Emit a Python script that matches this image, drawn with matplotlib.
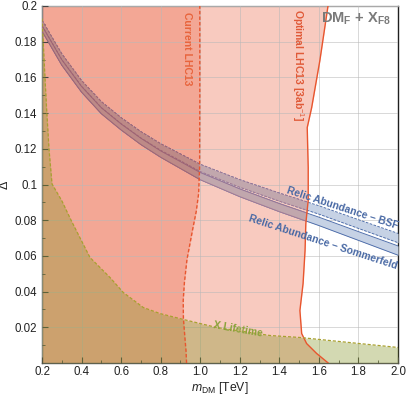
import matplotlib
matplotlib.use("Agg")
import matplotlib.pyplot as plt
from matplotlib.colors import to_rgb
import numpy as np

plt.rcParams['font.family'] = ['Liberation Sans', 'DejaVu Sans']
plt.rcParams['mathtext.fontset'] = 'custom'
plt.rcParams['mathtext.rm'] = 'Liberation Sans'
plt.rcParams['mathtext.it'] = 'Liberation Sans:italic'
plt.rcParams['mathtext.bf'] = 'Liberation Sans:bold'

# ---- data ----
# Current LHC13 exclusion boundary (mass as function of Delta)
cur_delta = [0.0, 0.007, 0.015, 0.025, 0.035, 0.045, 0.058, 0.065, 0.075, 0.085, 0.095, 0.11, 0.15, 0.2]
cur_mass = [0.931, 0.928, 0.922, 0.915, 0.914, 0.920, 0.933, 0.945, 0.962, 0.980, 0.992, 0.997, 0.998, 0.998]

# Optimal LHC13 [3ab^-1] boundary
opt_delta = [0.0, 0.0053, 0.0109, 0.0165, 0.0294, 0.0445, 0.0630, 0.0782, 0.0911, 0.1096, 0.1319, 0.1431, 0.1695, 0.2]
opt_mass = [1.647, 1.589, 1.538, 1.513, 1.504, 1.520, 1.530, 1.534, 1.546, 1.546, 1.541, 1.5635, 1.605, 1.646]

# X lifetime boundary (Delta as function of mass)
xl_mass = [0.2, 0.2066, 0.215, 0.2238, 0.2354, 0.2506, 0.2996, 0.350, 0.4427, 0.5438, 0.611,
           0.7121, 0.7966, 0.9143, 1.083, 1.353, 1.504, 2.0]
xl_delta = [0.193, 0.179, 0.160, 0.1415, 0.1199, 0.1003, 0.0910, 0.0793, 0.0591, 0.0479, 0.0395,
            0.0311, 0.0277, 0.0244, 0.0199, 0.0154, 0.0143, 0.0087]

# Relic abundance bands
relic_mass = [0.2, 0.3, 0.4, 0.5, 0.6, 0.7, 0.8, 0.9, 1.0, 1.2, 1.4, 1.6, 1.8, 2.0]
bsf_lo = [0.1891, 0.1700, 0.1551, 0.1431, 0.1341, 0.1261, 0.1192, 0.1133, 0.1073, 0.0985, 0.0907, 0.0834, 0.0754, 0.0674]
bsf_hi = [0.1920, 0.1732, 0.1582, 0.1464, 0.1374, 0.1296, 0.1228, 0.1171, 0.1113, 0.1027, 0.0952, 0.0881, 0.0803, 0.0726]
som_lo = [0.1860, 0.1669, 0.1518, 0.1397, 0.1306, 0.1224, 0.1153, 0.1090, 0.1027, 0.0932, 0.0848, 0.0770, 0.0687, 0.0604]
som_hi = [0.1889, 0.1699, 0.1549, 0.1430, 0.1339, 0.1259, 0.1188, 0.1128, 0.1067, 0.0975, 0.0893, 0.0817, 0.0736, 0.0656]

x_ticks = [0.2, 0.4, 0.6, 0.8, 1.0, 1.2, 1.4, 1.6, 1.8, 2.0]
x_ticklabels = ["0.2", "0.4", "0.6", "0.8", "1.0", "1.2", "1.4", "1.6", "1.8", "2.0"]
y_ticks = [0.02, 0.04, 0.06, 0.08, 0.1, 0.12, 0.14, 0.16, 0.18, 0.2]
y_ticklabels = ["0.02", "0.04", "0.06", "0.08", "0.1", "0.12", "0.14", "0.16", "0.18", "0.2"]

# ---- figure ----
fig = plt.figure(figsize=(4.07, 3.95), dpi=100)
ax = fig.add_axes([42/407, 1-363/395, (398-42)/407, (363-6)/395])

red_fill = '#eb6446'
red_line = '#e8552e'
a_red = 0.34
opt_poly = ax.fill_betweenx(opt_delta, 0.2, opt_mass, color=red_fill, alpha=a_red, lw=0, zorder=1)
cur_poly = ax.fill_betweenx(cur_delta, 0.2, cur_mass, color=red_fill, alpha=a_red, lw=0, zorder=2)
ax.fill_between(xl_mass, 0, xl_delta, color='#87982a', alpha=0.36, lw=0, zorder=3)

ax.plot(opt_mass, opt_delta, color=red_line, lw=1.0, zorder=6)
ax.plot(cur_mass, cur_delta, color=red_line, lw=1.0, ls=(0, (2.5, 1.5)), zorder=6)
ax.plot(xl_mass, xl_delta, color='#a8a030', lw=0.9, ls=(0, (2.5, 1.5)), zorder=6)


def blend(bg, fg, a):
    return tuple(b + a * (f - b) for b, f in zip(bg, fg))


def mult(bg, c):
    return tuple(b * x for b, x in zip(bg, c))


red_rgb = to_rgb(red_fill)
bg_white = (1.0, 1.0, 1.0)
bg_opt = blend(bg_white, red_rgb, a_red)
bg_cur = blend(bg_opt, red_rgb, a_red)
band_rgb = (198/255, 210/255, 229/255)
line_rgb = (74/255, 106/255, 168/255)
line_red_rgb = (165/255, 150/255, 195/255)

opt_path = opt_poly.get_paths()[0]
cur_path = cur_poly.get_paths()[0]
regions = [(bg_white, None, 4.0), (bg_opt, opt_path, 4.1), (bg_cur, cur_path, 4.2)]
for bg, clip, z in regions:
    fc = mult(bg, band_rgb)
    lc = mult(bg, line_rgb) if clip is None else mult(bg, line_red_rgb)
    arts = []
    arts.append(ax.fill_between(relic_mass, bsf_lo, bsf_hi, color=fc, lw=0, zorder=z))
    arts.append(ax.fill_between(relic_mass, som_lo, som_hi, color=fc, lw=0, zorder=z))
    for arr in (bsf_lo, bsf_hi):
        arts += ax.plot(relic_mass, arr, color=lc, lw=0.65, ls=(0, (3, 1.5)), zorder=z + 0.05)
    for arr in (som_lo, som_hi):
        arts += ax.plot(relic_mass, arr, color=lc, lw=0.65, zorder=z + 0.05)
    if clip is not None:
        for art in arts:
            art.set_clip_path(clip, ax.transData)

ax.set_xlim(0.2, 2.0)
ax.set_ylim(0.0, 0.2)
ax.set_xticks(x_ticks)
ax.set_xticklabels(x_ticklabels)
ax.set_yticks(y_ticks)
ax.set_yticklabels(y_ticklabels)
ax.set_xticks(np.arange(0.3, 2.0, 0.2), minor=True)
ax.set_yticks(np.arange(0.01, 0.2, 0.02), minor=True)
ax.tick_params(which='both', direction='in', top=False, right=False, labelsize=8.3, colors='#222222')
ax.tick_params(axis='x', which='major', pad=2)
ax.tick_params(which='major', length=4, width=0.8, color='#444444')
ax.tick_params(which='minor', length=2.2, width=0.6, color='#444444')
ax.grid(True, which='major', color='#b8b8b8', lw=0.7, alpha=0.55, zorder=7)
ax.set_axisbelow(False)

for s in ('left', 'bottom'):
    ax.spines[s].set_color('#555555')
    ax.spines[s].set_linewidth(1.0)
ax.spines['top'].set_color('#9a9a9a')
ax.spines['right'].set_color('#202020')
ax.spines['top'].set_linewidth(1.0)
ax.spines['right'].set_linewidth(1.0)

ax.set_xlabel(r'$m_{\mathrm{DM}}$ [TeV]', fontsize=8.8, color='#222222')
ax.xaxis.set_label_coords(0.5, -0.047)
ax.set_ylabel('Δ', fontsize=9, color='#222222')
ax.yaxis.set_label_coords(-0.088, 0.5)

# text labels
ax.text(0.933, 0.176, 'Current LHC13', rotation=-90, color='#e8643c', fontsize=7.5,
        fontweight='bold', ha='center', va='center', zorder=8)
ax.text(1.494, 0.167, r'Optimal LHC13 [3ab$^{-1}$]', rotation=-90, color='#e05a38', fontsize=7.5,
        fontweight='bold', ha='center', va='center', zorder=8)
ax.text(1.19, 0.0188, 'X Lifetime', rotation=-10, color='#8aa23a', fontsize=7.5,
        fontweight='bold', ha='center', va='center', zorder=8)
ax.text(1.72, 0.0868, 'Relic Abundance – BSF', rotation=-18, color='#4a6aa5', fontsize=7.5,
        fontweight='bold', ha='center', va='center', rotation_mode='anchor', zorder=8)
ax.text(1.62, 0.0678, 'Relic Abundance – Sommerfeld', rotation=-18, color='#4a6aa5', fontsize=7.5,
        fontweight='bold', ha='center', va='center', rotation_mode='anchor', zorder=8)
ax.text(1.965, 0.1975, r'$\mathbf{DM}_{\mathbf{F}}$ + $\mathbf{X}_{\mathbf{F8}}$', color='#7a7a7a',
        fontsize=10.5, fontweight='bold', ha='right', va='top', zorder=8)

fig.savefig('out.png', dpi=100)
